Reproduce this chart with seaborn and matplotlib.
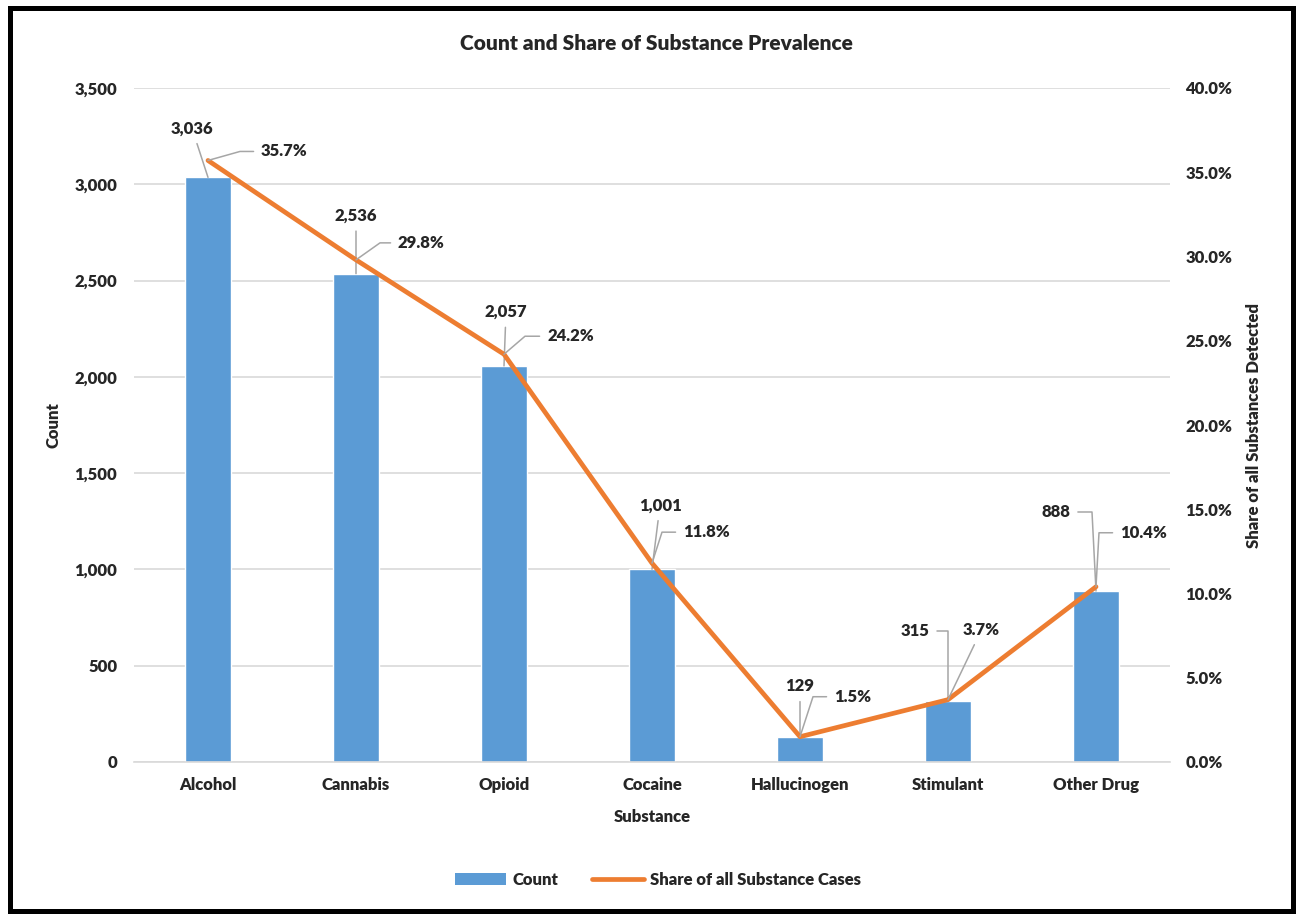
import math
import numpy as np
import pandas as pd
import matplotlib
matplotlib.use("Agg")
import matplotlib.pyplot as plt
from matplotlib.patches import Rectangle, Patch
from matplotlib.lines import Line2D
from matplotlib.ticker import FuncFormatter, MultipleLocator
import seaborn as sb

substances = ['Alcohol', 'Cannabis', 'Opioid', 'Cocaine', 'Hallucinogen', 'Stimulant', 'Other Drug']
counts = [3036, 2536, 2057, 1001, 129, 315, 888]
shares = [35.7, 29.8, 24.2, 11.8, 1.5, 3.7, 10.4]

# label offsets in pixels (dx, dy, elbow)
count_offsets = [(-16, 49, None), (0, 58, None), (2, 54, None), (8, 64, None),
                 (0, 51, None), (-33, 70, 0), (-40, 79, -4)]
share_offsets = [(53, 9, 32), (42, 17, 24), (43, 18, 21), (31, 31, 10),
                 (34, 40, 13), (15, 70, None), (24, 54, 3)]

BLUE = '#5B9BD5'
ORANGE = '#ED7D31'
GRID = '#D9D9D9'
LEADER = '#A6A6A6'
WT = 'heavy'
FS = 12

sb.set_style('white')
plt.rcParams['font.family'] = ['Lato', 'DejaVu Sans']
plt.rcParams['font.weight'] = WT

W, H = 1301, 916
fig = plt.figure(figsize=(W / 100, H / 100), dpi=100)
ax = fig.add_axes([134 / W, 1 - 762 / H, (1170 - 134) / W, (762 - 88) / H])

df = pd.DataFrame({'Substance': substances, 'Count': counts, 'Share': shares})

sb.barplot(data=df, x='Substance', y='Count', color=BLUE, width=0.31,
           saturation=1, ax=ax, zorder=2)
ax.set_ylim(0, 3500)
ax.set_xlim(-0.5, len(substances) - 0.5)
ax.yaxis.set_major_locator(MultipleLocator(500))
ax.yaxis.set_major_formatter(FuncFormatter(lambda v, p: f'{v:,.0f}'))
ax.grid(axis='y', color=GRID, lw=1.2, zorder=0)
ax.set_axisbelow(True)
for s in ['top', 'left', 'right']:
    ax.spines[s].set_visible(False)
ax.spines['bottom'].set_color(GRID)
ax.spines['bottom'].set_linewidth(1.2)
ax.tick_params(axis='both', length=0, labelsize=FS)
ax.tick_params(axis='y', pad=12)
ax.tick_params(axis='x', pad=11)
for t in ax.get_xticklabels() + ax.get_yticklabels():
    t.set_fontweight(WT)
ax.set_xlabel('Substance', fontsize=FS, fontweight=WT, labelpad=11)
ax.set_ylabel('Count', fontsize=FS, fontweight=WT, labelpad=9)

ax2 = ax.twinx()
df['pos'] = np.arange(len(substances))
sb.lineplot(data=df, x='pos', y='Share', color=ORANGE, lw=3.4, ax=ax2,
            solid_capstyle='round', solid_joinstyle='round', zorder=3)
ax2.set_ylim(0, 40)
ax2.set_xlim(-0.5, len(substances) - 0.5)
ax2.yaxis.set_major_locator(MultipleLocator(5))
ax2.yaxis.set_major_formatter(FuncFormatter(lambda v, p: f'{v:.1f}%'))
for s in ax2.spines.values():
    s.set_visible(False)
ax2.tick_params(axis='y', length=0, labelsize=FS, pad=11)
for t in ax2.get_yticklabels():
    t.set_fontweight(WT)
ax2.set_ylabel('Share of all Substances Detected', fontsize=FS, fontweight=WT, labelpad=10)
ax2.set_xlabel('')
ax2.grid(False)


def callout(axis, x, y, text, dx, dy, elbow, ha):
    if elbow is None:
        cs = 'arc3'
    else:
        ang = math.degrees(math.atan2(dy, elbow))
        cs = f'angle,angleA=0,angleB={ang},rad=0'
    axis.annotate(text, xy=(x, y), xytext=(dx, dy), textcoords='offset pixels',
                  ha=ha, va='center', fontsize=FS, fontweight=WT, zorder=5,
                  arrowprops=dict(arrowstyle='-', color=LEADER, lw=1.1,
                                  shrinkA=3, shrinkB=0, connectionstyle=cs))


for i, c in enumerate(counts):
    dx, dy, el = count_offsets[i]
    callout(ax, i, c, f'{c:,}', dx, dy, el, 'center')
for i, s in enumerate(shares):
    dx, dy, el = share_offsets[i]
    callout(ax2, i, s, f'{s:.1f}%', dx, dy, el, 'left')

fig.text(656 / W, 1 - 43 / H, 'Count and Share of Substance Prevalence',
         ha='center', va='center', fontsize=15, fontweight=WT)

handles = [Patch(facecolor=BLUE, edgecolor='none'),
           Line2D([0], [0], color=ORANGE, lw=3.4, solid_capstyle='round')]
fig.legend(handles, ['Count', 'Share of all Substance Cases'], loc='center',
           bbox_to_anchor=(658 / W, 1 - 880 / H), ncol=2, frameon=False,
           handlelength=3.1, handletextpad=0.4, columnspacing=2.0,
           prop={'weight': WT, 'size': FS})

fig.patches.append(Rectangle((9.5 / W, 1 - 911 / H), (1293 - 9.5) / W, (911 - 7.5) / H,
                             transform=fig.transFigure, fill=False, edgecolor='black',
                             lw=3.6, zorder=10))

fig.savefig('out.png', dpi=100)
